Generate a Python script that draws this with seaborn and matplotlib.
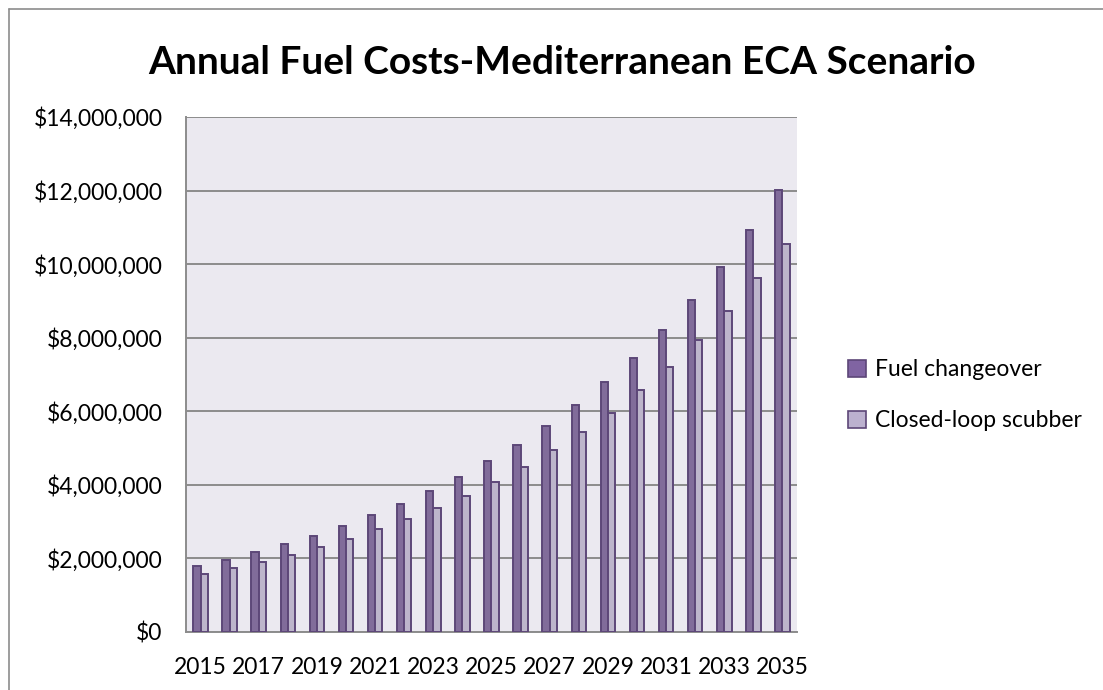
import matplotlib
matplotlib.use("Agg")
import matplotlib.pyplot as plt
from matplotlib.lines import Line2D
from matplotlib.patches import Patch
from matplotlib.ticker import FuncFormatter
import pandas as pd
import seaborn as sns

# Annual fuel cost per year (USD)
years = list(range(2015, 2036))
fuel_changeover = [1790000, 1960000, 2170000, 2390000, 2620000, 2880000, 3170000,
                   3480000, 3830000, 4210000, 4640000, 5090000, 5610000, 6160000,
                   6790000, 7460000, 8210000, 9020000, 9930000, 10920000, 12010000]
closed_loop = [1570000, 1730000, 1900000, 2090000, 2310000, 2540000, 2790000,
               3070000, 3380000, 3700000, 4080000, 4490000, 4940000, 5430000,
               5960000, 6570000, 7210000, 7930000, 8730000, 9610000, 10560000]
series_names = ["Fuel changeover", "Closed-loop scubber"]
y_ticks = [0, 2000000, 4000000, 6000000, 8000000, 10000000, 12000000, 14000000]

df = pd.DataFrame({
    "Year": [str(y) for y in years] * 2,
    "Cost": fuel_changeover + closed_loop,
    "Series": [series_names[0]] * len(years) + [series_names[1]] * len(years),
})

sns.set_theme(style="white")
plt.rcParams["font.family"] = ["Lato", "DejaVu Sans"]

fill_colors = {series_names[0]: "#8064a2", series_names[1]: "#bcb1cf"}
edge_color = "#5d4778"

fig = plt.figure(figsize=(11.03, 6.9), dpi=100)
ax = fig.add_axes([0.1686, 0.0841, 0.554, 0.7464])
ax.set_facecolor("#ebe9f0")

sns.barplot(data=df, x="Year", y="Cost", hue="Series", palette=fill_colors,
            width=0.5, gap=0, edgecolor=edge_color, linewidth=1.4,
            legend=False, ax=ax, zorder=3)

ax.set_ylim(0, 14000000)
ax.set_xlim(-0.5, len(years) - 0.5)
ax.set_yticks(y_ticks)
ax.yaxis.set_major_formatter(FuncFormatter(lambda v, p: f"${v:,.0f}"))
ax.grid(axis="y", color="#8c8c8c", linewidth=1.4, zorder=0)
ax.set_axisbelow(True)

ax.set_xticks(range(0, len(years), 2))
ax.set_xticklabels([str(y) for y in years[::2]])
ax.tick_params(axis="both", labelsize=16.5, labelcolor="#000000", length=0)
ax.tick_params(axis="y", pad=17)
ax.tick_params(axis="x", pad=18)
ax.set_xlabel("")
ax.set_ylabel("")

for side in ["top", "right"]:
    ax.spines[side].set_visible(False)
for side in ["left", "bottom"]:
    ax.spines[side].set_color("#8c8c8c")
    ax.spines[side].set_linewidth(1.4)

fig.text(0.51, 0.91, "Annual Fuel Costs-Mediterranean ECA Scenario",
         ha="center", va="center", fontsize=28, fontweight="bold",
         color="#000000")

handles = [Patch(facecolor=fill_colors[n], edgecolor=edge_color, linewidth=1.2)
           for n in series_names]
fig.legend(handles, series_names, loc="center left",
           bbox_to_anchor=(0.75, 0.427), frameon=False, fontsize=16.5,
           handlelength=0.8, handleheight=0.8, handletextpad=0.4,
           labelspacing=1.3, labelcolor="#000000")

# Chart border (left and top edges)
fig.add_artist(Line2D([0.0082, 0.0082], [0, 0.987], color="#8c8c8c",
                      linewidth=1.2, transform=fig.transFigure))
fig.add_artist(Line2D([0.0082, 1.0], [0.987, 0.987], color="#8c8c8c",
                      linewidth=1.2, transform=fig.transFigure))

fig.savefig("out.png", dpi=100)
